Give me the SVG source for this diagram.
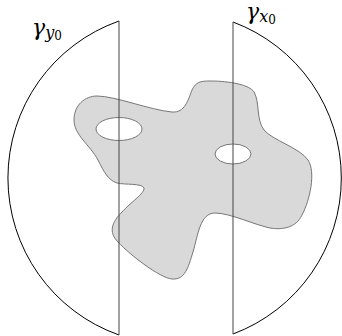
<svg xmlns="http://www.w3.org/2000/svg" width="342" height="336" viewBox="0 0 342 336">
<style>
.blob{fill:#d9d9d9;stroke:#777;stroke-width:1}
.hole{fill:#fff;stroke:#777;stroke-width:1}
.arc{fill:none;stroke:#000;stroke-width:1}
.chord{fill:none;stroke:#444;stroke-width:1}
.lbl{font-family:"DejaVu Serif","Liberation Serif",serif;font-style:italic;fill:#000}
</style>
<rect width="342" height="336" fill="#fff"/>
<g id="region">
<path class="blob" d="M74,120 C74,105 85,96 97,96 C115,96 150,110 172,112 C185,113 188,100 192,90 C196,82 200,81 210,81 C230,81 250,85 254,92 C260,102 256,120 264,130 C272,140 300,148 308,160 C316,172 310,200 302,215 C296,228 282,230 270,228 C255,225 230,213 215,213 C200,213 198,235 193,252 C188,268 185,280 172,279 C160,278 130,255 118,242 C108,232 112,222 122,212 C130,203 145,193 144,188 C142,183 125,185 117,183 C108,180 104,172 98,160 C90,145 74,135 74,120 Z"/>
<ellipse class="hole" cx="119" cy="129" rx="23" ry="11.5"/>
<ellipse class="hole" cx="233" cy="154" rx="18" ry="10"/>
</g>
<g id="connectors">
<g id="gamma-y0">
<path class="arc" d="M119,21 A166.5,166.5 0 0 0 119,335"/>
<line class="chord" x1="119" y1="21" x2="119" y2="335"/>
</g>
<g id="gamma-x0">
<path class="arc" d="M233,22 A166.5,166.5 0 0 1 233,334"/>
<line class="chord" x1="233" y1="22" x2="233" y2="334"/>
</g>
</g>
<g id="label-y0">
<text class="lbl" x="32" y="35" font-size="22">γ<tspan font-size="16" dy="3">y</tspan><tspan font-size="12" dy="2" font-style="normal">0</tspan></text>
</g>
<g id="label-x0">
<text class="lbl" x="246" y="19" font-size="22">γ<tspan font-size="16" dy="3">x</tspan><tspan font-size="12" dy="2" font-style="normal">0</tspan></text>
</g>
</svg>
